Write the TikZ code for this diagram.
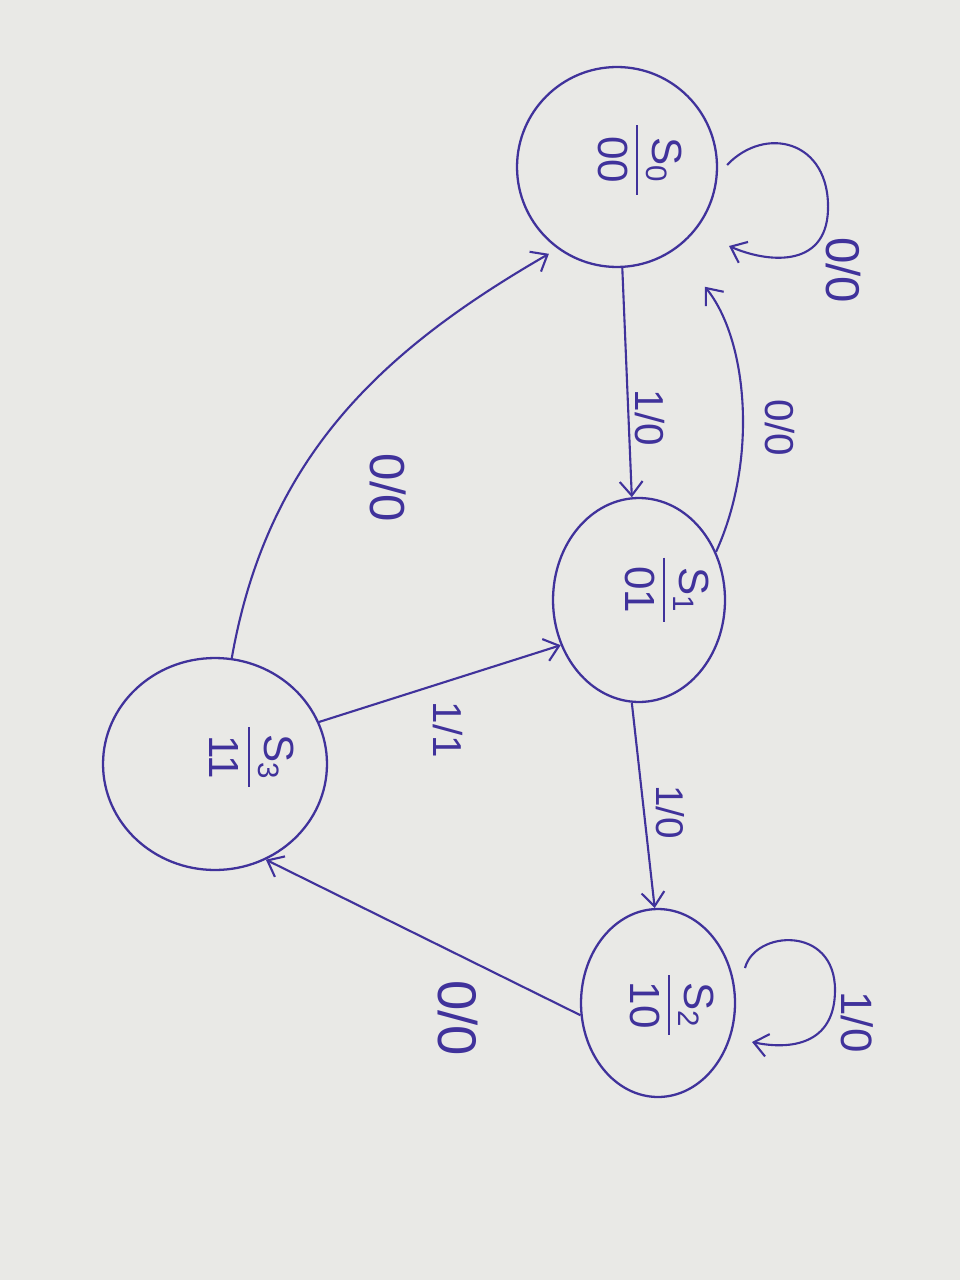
\documentclass[tikz,border=0pt]{standalone}
\usepackage{fontspec}
\setmainfont{Liberation Sans}
\usetikzlibrary{shapes.geometric,arrows.meta,calc}
\definecolor{ink}{RGB}{64,50,155}
\definecolor{paper}{RGB}{233,233,230}
\begin{document}
\begin{tikzpicture}[x=0.02cm,y=-0.02cm,
  state/.style={draw=ink, line width=1.3pt, ellipse, inner sep=0pt},
  arr/.style={draw=ink, line width=1.2pt, -{Straight Barb[length=8pt,width=13pt]}},
  lab/.style={text=ink, rotate=-90, inner sep=1pt},
  stxt/.style={text=ink, rotate=-90, font=\fontsize{24}{24}\selectfont, align=center, inner sep=0pt}]
\fill[paper] (0,0) rectangle (960,1280);
\useasboundingbox (0,0) rectangle (960,1280);
% states
\node[state, minimum width=4cm, minimum height=4cm] (s0) at (617,167) {};
\node[state, minimum width=3.44cm, minimum height=4.08cm] (s1) at (639,600) {};
\node[state, minimum width=4.48cm, minimum height=4.24cm] (s3) at (215,764) {};
\node[state, minimum width=3.08cm, minimum height=3.76cm] (s2) at (658,1003) {};
% state texts
\node[stxt] (t0) at (640,160) {S\textsubscript{0}\\[-0.35em]\rule[0.25em]{1.4cm}{1pt}\\[-0.35em]00};
\node[stxt] (t1) at (667,590) {S\textsubscript{1}\\[-0.35em]\rule[0.25em]{1.3cm}{1pt}\\[-0.35em]01};
\node[stxt] (t3) at (252,757) {S\textsubscript{3}\\[-0.35em]\rule[0.25em]{1.2cm}{1pt}\\[-0.35em]11};
\node[stxt] (t2) at (672,1005) {S\textsubscript{2}\\[-0.35em]\rule[0.25em]{1.2cm}{1pt}\\[-0.35em]10};
% loop end points
\coordinate (l0a) at (727,165);
\coordinate (l0b) at (729,246);
\coordinate (l2a) at (745,968);
\coordinate (l2b) at (752,1042);
% connectors
\draw[arr] (l0a) .. controls (765,125) and (830,140) .. (828,210) .. controls (826,270) and (765,262) .. (l0b);
\draw[arr] (s0.-87) -- (s1.94);
\draw[arr, shorten >=0.95cm] (s1.32) .. controls (758,460) and (748,340) .. (s0.-55);
\draw[arr, shorten >=0.2cm] (s3.81) to[out=80,in=-150] (s0.-126);
\draw[arr] (s3.22) -- (s1.-150);
\draw[arr] (s1.-94) -- (s2.92);
\draw[arr] (s2.-171) -- (s3.-62);
\draw[arr] (l2a) .. controls (755,930) and (835,925) .. (835,990) .. controls (835,1045) and (790,1050) .. (l2b);
% labels
\node[lab, font=\fontsize{27}{29}\selectfont] (L1) at (843,270) {0/0};
\node[lab, font=\fontsize{23}{25}\selectfont] (L2) at (650,418) {1/0};
\node[lab, font=\fontsize{23}{25}\selectfont] (L3) at (780,428) {0/0};
\node[lab, font=\fontsize{28}{30}\selectfont] (L4) at (388,488) {0/0};
\node[lab, font=\fontsize{23}{25}\selectfont] (L5) at (448,730) {1/1};
\node[lab, font=\fontsize{22}{24}\selectfont] (L6) at (670,812) {1/0};
\node[lab, font=\fontsize{31}{33}\selectfont] (L7) at (458,1018) {0/0};
\node[lab, font=\fontsize{25}{27}\selectfont] (L8) at (857,1022) {1/0};
\end{tikzpicture}
\end{document}
